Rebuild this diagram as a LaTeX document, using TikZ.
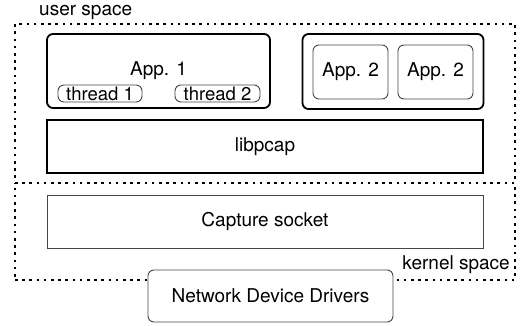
\documentclass[tikz,border=0pt]{standalone}
\usepackage{fontspec}
\setmainfont{TeX Gyre Heros}
\definecolor{thingray}{RGB}{70,70,70}
\usetikzlibrary{positioning}

\begin{document}
\begin{tikzpicture}[
        x=1pt,y=-1pt,
        txt/.style={font=\fontsize{19}{21}\selectfont},
        thickbox/.style={rectangle,draw=black,line width=1.8pt,inner sep=0pt,txt},
        thinbox/.style={rectangle,draw=thingray,line width=0.9pt,inner sep=0pt,fill=white,txt},
        spacebox/.style={rectangle,draw=black,line width=2.2pt,dash pattern=on 2.6pt off 4.6pt,inner sep=0pt}]

        \useasboundingbox (0,0) rectangle (524,326);

        % user / kernel space frames
        \node[spacebox,minimum width=500pt,minimum height=159pt] (user) at (265,103.5) {};
        \node[spacebox,minimum width=500pt,minimum height=97pt]  (kernel) at (265,231.5) {};
        \node[txt,inner sep=0pt,anchor=west] (userlbl)   at (39,12)   {user space};
        \node[txt,inner sep=0pt,anchor=east] (kernellbl) at (510,265) {kernel space};

        % applications
        \node[thickbox,rounded corners=6pt,minimum width=223pt,minimum height=74pt]
              (app1) at (158.5,71) {App. 1};
        \node[thinbox,rounded corners=6pt,minimum width=84pt,minimum height=17pt,
              font=\fontsize{18.5}{19}\selectfont]
              (thr1) at (100,93.5) {thread 1};
        \node[thinbox,rounded corners=6pt,minimum width=85pt,minimum height=17pt,
              font=\fontsize{18.5}{19}\selectfont]
              (thr2) at (217.5,93.5) {thread 2};
        \node[thickbox,rounded corners=6pt,minimum width=181pt,minimum height=75pt]
              (app2grp) at (393,71.5) {};
        \node[thinbox,rounded corners=6pt,minimum width=75pt,minimum height=54pt]
              (app2a) at (350.5,72) {App. 2};
        \node[thinbox,rounded corners=6pt,minimum width=75pt,minimum height=54pt]
              (app2b) at (435.5,72) {App. 2};

        % library, socket, drivers
        \node[thickbox,minimum width=436pt,minimum height=53pt] (libpcap) at (265,146.5) {libpcap};
        \node[thinbox,minimum width=436pt,minimum height=53pt]  (capture) at (265,221.5) {Capture socket};
        \node[thinbox,rounded corners=6pt,minimum width=245pt,minimum height=52pt]
              (drivers) at (270.5,296) {Network Device Drivers};

    \end{tikzpicture}
\end{document}
